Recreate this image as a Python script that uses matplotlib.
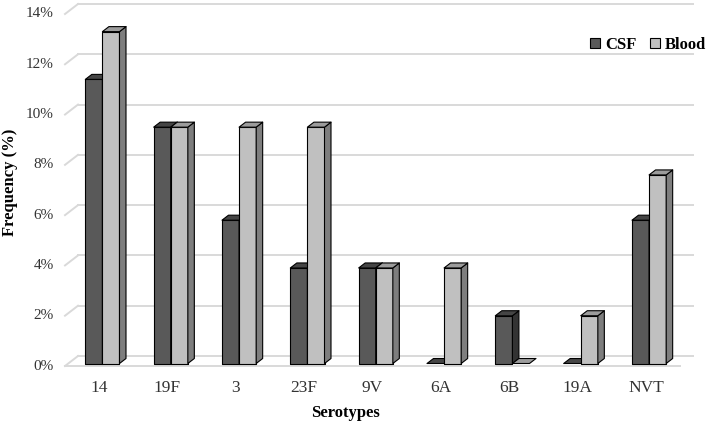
import matplotlib
matplotlib.use("Agg")
import matplotlib.pyplot as plt
from matplotlib.patches import Polygon, Patch

# ── data (percent of isolates) ────────────────────────────────────────────
serotypes = ["14", "19F", "3", "23F", "9V", "6A", "6B", "19A", "NVT"]
csf = [11.3, 9.4, 5.7, 3.8, 3.8, 0.0, 1.9, 0.0, 5.7]
blood = [13.2, 9.4, 9.4, 9.4, 3.8, 3.8, 0.0, 1.9, 7.5]
y_ticks = [0, 2, 4, 6, 8, 10, 12, 14]

# ── pseudo-3D styling (Excel-like) ────────────────────────────────────────
W, H = 709, 426
X_LO, X_HI = -0.5, 8.5
Y_LO, Y_HI = 0, 14
PX_LEFT, PX_RIGHT, PX_BOTTOM, PX_TOP = 65, 680, 366, 14
SX = (PX_RIGHT - PX_LEFT) / (X_HI - X_LO)     # px per category
SY = (PX_BOTTOM - PX_TOP) / (Y_HI - Y_LO)     # px per percent
DEPTH_PX = (13, 10)                            # wall depth (right, up) in px
DX, DY = DEPTH_PX[0] / SX, DEPTH_PX[1] / SY
BAR_W = 0.25
BAR_D0, BAR_D1 = 0.25, 0.75                    # bar position inside depth

STYLES = {
    "csf": dict(front="#595959", top="#454545", side="#333333"),
    "blood": dict(front="#c0c0c0", top="#9c9c9c", side="#7e7e7e"),
}
GRID = "#d9d9d9"
TXT = "#333333"
SERIF = ["Liberation Serif", "DejaVu Serif"]


def P(x, v, d):
    return (x + d * DX, v + d * DY)


def draw_bar(ax, x0, v, style):
    x1 = x0 + BAR_W
    kw = dict(edgecolor="black", linewidth=0.8, clip_on=False, joinstyle="round")
    top = [P(x0, v, BAR_D0), P(x1, v, BAR_D0), P(x1, v, BAR_D1), P(x0, v, BAR_D1)]
    if v > 0:
        front = [P(x0, 0, BAR_D0), P(x1, 0, BAR_D0), P(x1, v, BAR_D0), P(x0, v, BAR_D0)]
        side = [P(x1, 0, BAR_D0), P(x1, 0, BAR_D1), P(x1, v, BAR_D1), P(x1, v, BAR_D0)]
        ax.add_patch(Polygon(front, facecolor=style["front"], zorder=3, **kw))
        ax.add_patch(Polygon(side, facecolor=style["side"], zorder=3, **kw))
    ax.add_patch(Polygon(top, facecolor=style["top"], zorder=3, **kw))


fig = plt.figure(figsize=(W / 100, H / 100), dpi=100)
ax = fig.add_axes([PX_LEFT / W, (H - PX_BOTTOM) / H,
                   (PX_RIGHT - PX_LEFT) / W, (PX_BOTTOM - PX_TOP) / H])
ax.set_xlim(X_LO, X_HI)
ax.set_ylim(Y_LO, Y_HI)
ax.axis("off")

# walls: back gridlines + left-wall diagonals, floor front edge
for v in y_ticks:
    bx = [P(X_LO, v, 1)[0], P(X_HI, v, 1)[0]]
    by = [P(X_LO, v, 1)[1], P(X_HI, v, 1)[1]]
    ax.plot(bx, by, color=GRID, linewidth=1.4, clip_on=False, zorder=1)
    sx = [P(X_LO, v, 0)[0], P(X_LO, v, 1)[0]]
    sy = [P(X_LO, v, 0)[1], P(X_LO, v, 1)[1]]
    ax.plot(sx, sy, color=GRID, linewidth=1.4, clip_on=False, zorder=1)
    ax.text(X_LO - 11 / SX, v, f"{v}%", ha="right", va="center",
            fontsize=11, family=SERIF, color=TXT)
ax.plot([X_LO, X_HI], [0, 0], color=GRID, linewidth=1.4, clip_on=False, zorder=1)

# bars
for i, (c, b) in enumerate(zip(csf, blood)):
    draw_bar(ax, i - BAR_W, c, STYLES["csf"])
    draw_bar(ax, i, b, STYLES["blood"])
    ax.text(i, -22 / SY, serotypes[i], ha="center", va="center",
            fontsize=12.5, family=SERIF, color=TXT)

fig.text(345 / W, 1 - 413 / H, "Serotypes", ha="center", va="center",
         fontsize=12, fontweight="bold", family=SERIF)
fig.text(10 / W, 1 - 182 / H, "Frequency (%)", ha="center", va="center",
         rotation=90, fontsize=12, fontweight="bold", family=SERIF)

handles = [Patch(facecolor=STYLES["csf"]["front"], edgecolor="black", linewidth=0.8),
           Patch(facecolor=STYLES["blood"]["front"], edgecolor="black", linewidth=0.8)]
fig.legend(handles, ["CSF", "Blood"], ncol=2, frameon=False,
           loc="center right", bbox_to_anchor=(706 / W, 1 - 45 / H),
           handlelength=0.6, handleheight=0.6, handletextpad=0.3,
           columnspacing=0.8, borderpad=0.0, borderaxespad=0.0,
           prop=dict(family=SERIF, weight="bold", size=12))

fig.savefig("out.png", dpi=100)
